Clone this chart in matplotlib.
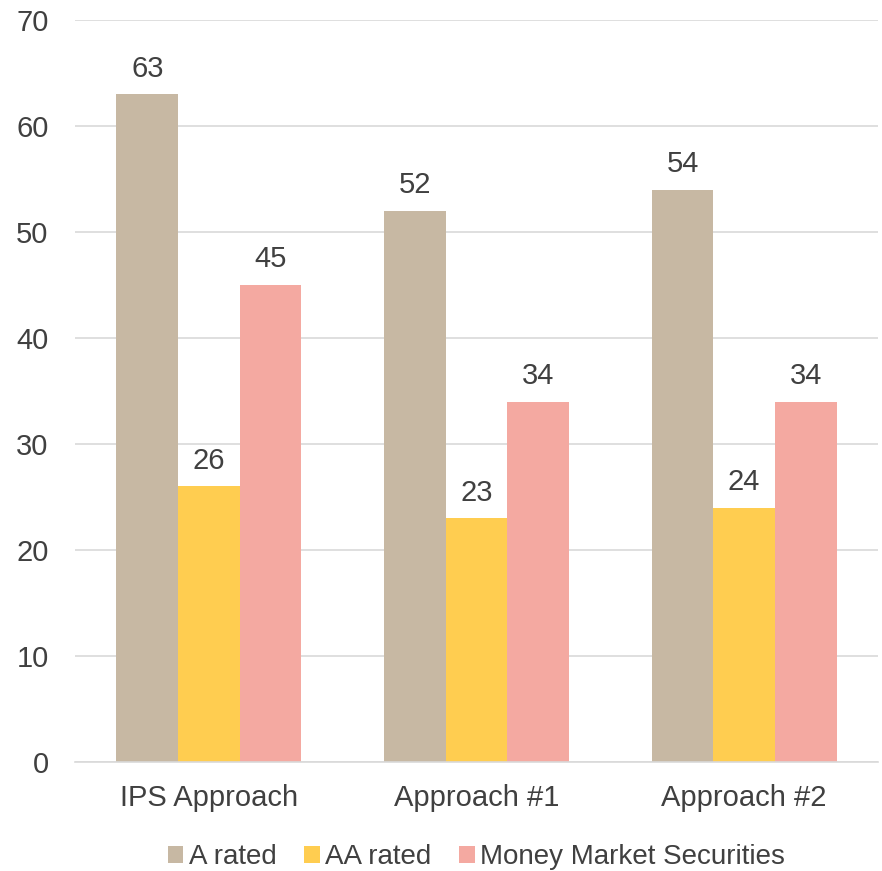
import matplotlib.pyplot as plt
import numpy as np

plt.rcParams['font.family'] = ['Liberation Sans', 'DejaVu Sans']

categories = ['IPS Approach', 'Approach #1', 'Approach #2']
series_names = ['A rated', 'AA rated', 'Money Market Securities']
a_rated = [63, 52, 54]
aa_rated = [26, 23, 24]
money_market = [45, 34, 34]
colors = ['#C7B8A3', '#FFCD50', '#F4A9A1']

text_color = '#404040'

fig = plt.figure(figsize=(8.82, 8.71), dpi=100)
ax = fig.add_axes([75 / 882, 1 - 762 / 871, 803 / 882, 742 / 871])

x = np.arange(len(categories))
width = 0.23
for i, (vals, name) in enumerate(zip([a_rated, aa_rated, money_market], series_names)):
    bars = ax.bar(x + (i - 1) * width, vals, width, color=colors[i], label=name, zorder=2)
    for b, v in zip(bars, vals):
        ax.text(b.get_x() + b.get_width() / 2, v + 1.1, str(v), ha='center', va='bottom',
                fontsize=21, color=text_color)

ax.set_xlim(-0.5, 2.5)
ax.set_ylim(0, 70)
ax.set_yticks(range(0, 71, 10))
ax.set_xticks(x)
ax.set_xticklabels(categories)
ax.grid(axis='y', color='#D9D9D9', linewidth=1.2, zorder=0)
ax.tick_params(axis='both', length=0, labelsize=21, colors=text_color)
ax.tick_params(axis='y', pad=19)
ax.tick_params(axis='x', pad=16)
for s in ax.spines.values():
    s.set_visible(False)
ax.spines['bottom'].set_visible(True)
ax.spines['bottom'].set_color('#D9D9D9')
ax.spines['bottom'].set_linewidth(1.2)

ax.legend(loc='center', bbox_to_anchor=(0.5, -0.128), ncol=3, frameon=False,
          fontsize=20, labelcolor=text_color, handlelength=0.55, handleheight=0.55,
          handletextpad=0.2, columnspacing=1.0)

plt.savefig('out.png', dpi=100)
